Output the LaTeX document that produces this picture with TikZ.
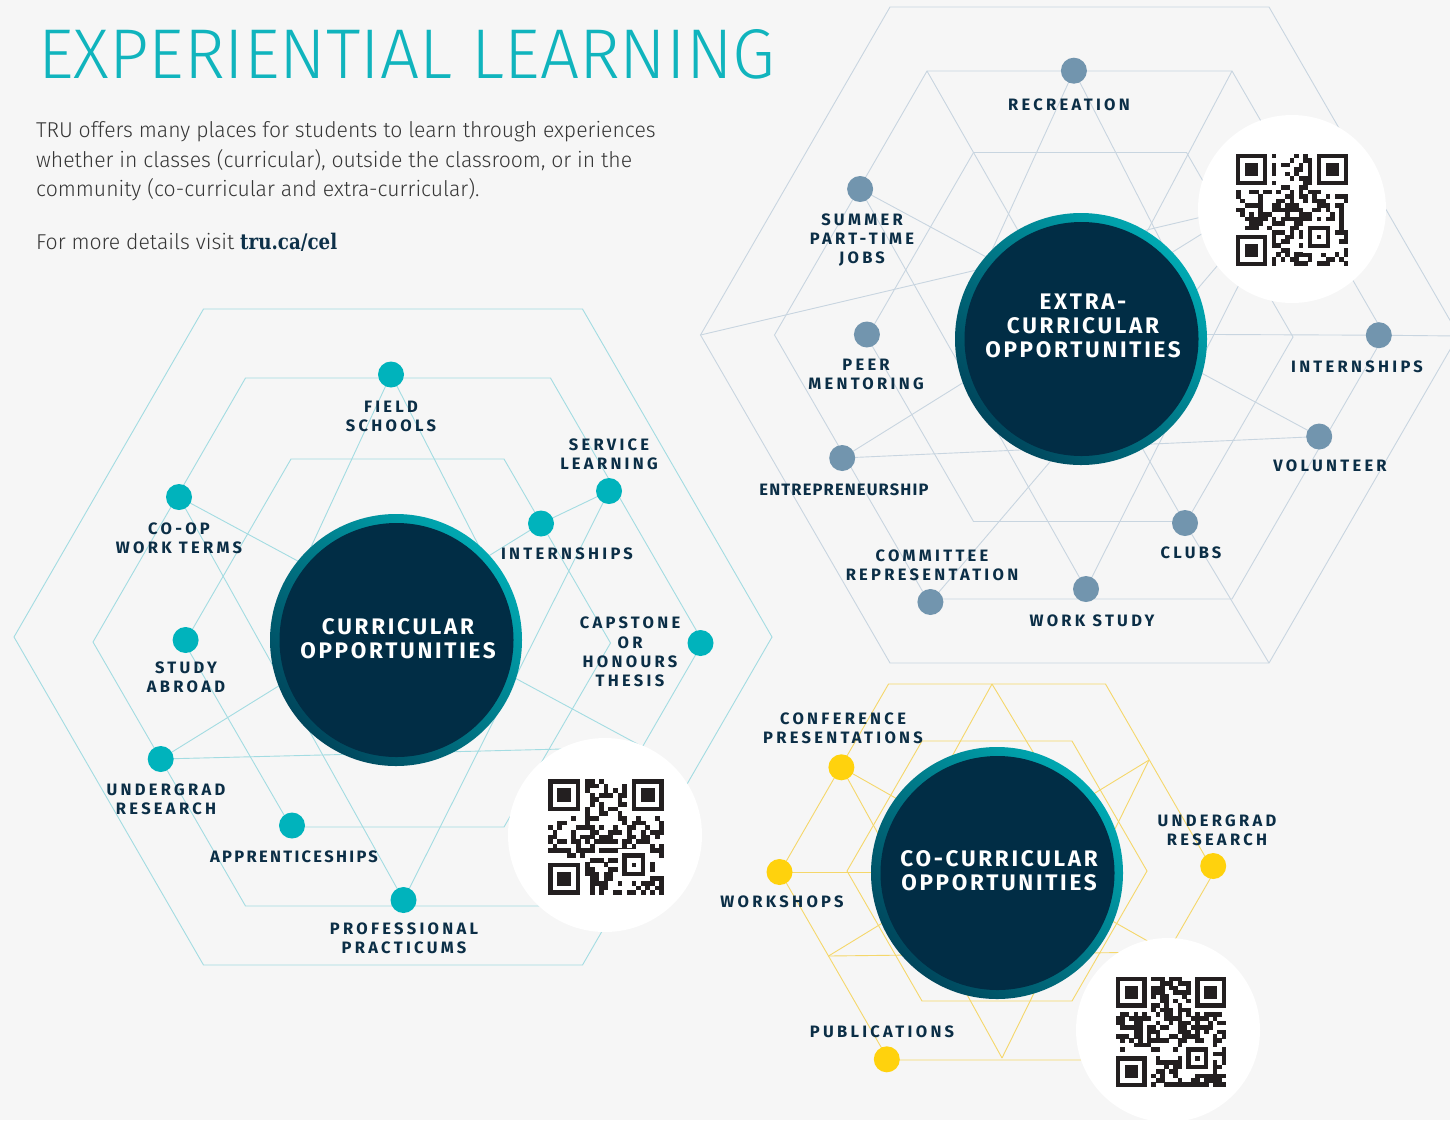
\documentclass[tikz,border=0pt]{standalone}
\usepackage{fontspec}
\setmainfont{Fira Sans}
\newfontfamily\titlefont{Fira Sans Light}
\newfontfamily\bodyfont[FakeStretch=0.985]{Fira Sans Light}
\newfontfamily\lblfont[LetterSpace=20]{Fira Sans}
\newfontfamily\ctrfont[LetterSpace=12]{Fira Sans}
\newfontfamily\slabfont[FakeStretch=0.85]{DejaVu Serif}
\definecolor{bgc}{HTML}{F6F6F6}
\definecolor{tealdot}{HTML}{00B3BC}
\definecolor{tealline}{HTML}{A3DCE2}
\definecolor{greydot}{HTML}{7295AE}
\definecolor{greyline}{HTML}{C8D5E0}
\definecolor{yeldot}{HTML}{FFD20D}
\definecolor{yelline}{HTML}{F5D76A}
\definecolor{navy}{HTML}{012D45}
\definecolor{lblc}{HTML}{0B2E46}
\definecolor{ringlight}{HTML}{00A9B2}
\definecolor{ringdark}{HTML}{00465C}
\definecolor{titlec}{HTML}{10B4BD}
\definecolor{bodyc}{HTML}{363636}
\definecolor{linkc}{HTML}{0E3149}
\definecolor{qrc}{HTML}{231F20}
\tikzset{
 tl/.style={draw=tealline, line width=0.9pt},
 gl/.style={draw=greyline, line width=0.9pt},
 yl/.style={draw=yelline, line width=0.9pt},
 dotbase/.style={circle, minimum size=26pt, inner sep=0pt},
 tdot/.style={dotbase, fill=tealdot},
 gdot/.style={dotbase, fill=greydot},
 ydot/.style={dotbase, fill=yeldot},
 lbl/.style={text=lblc, font=\lblfont\bfseries\fontsize{16.5}{19.2}\selectfont, align=center, inner sep=0pt},
 ctr/.style={text=white, font=\ctrfont\bfseries\fontsize{22.5}{24}\selectfont, align=center, inner sep=0pt},
 ring/.style={circle, minimum size=252pt, inner sep=0pt, top color=ringlight, bottom color=ringdark, shading angle=-45},
 core/.style={circle, minimum size=234pt, inner sep=0pt, fill=navy},
 qrdisc/.style={circle, fill=white, inner sep=0pt},
 bodytxt/.style={text=bodyc, font=\bodyfont\fontsize{21.5}{29.5}\selectfont, inner sep=0pt, anchor=base west},
}
\newcommand\qrfinder[2]{%
 \fill[white] (#1-1-12.5,#2-1-12.5) rectangle ++(9,9);
 \fill[qrc] (#1-12.5,#2-12.5) rectangle ++(7,7);
 \fill[white] (#1+1-12.5,#2+1-12.5) rectangle ++(5,5);
 \fill[qrc] (#1+2-12.5,#2+2-12.5) rectangle ++(3,3);}
\newcommand\qrcode[4]{%
 \begin{scope}[shift={(#1,#2)},x=#3pt,y=#3pt]
 \pgfmathsetseed{#4}
 \foreach \qi in {0,...,24}{\foreach \qj in {0,...,24}{%
   \pgfmathrandominteger{\qrr}{0}{9}%
   \ifnum\qrr<5 \fill[qrc] (\qi-12.5,\qj-12.5) rectangle ++(1.03,1.03);\fi}}
 \qrfinder{0}{18}\qrfinder{18}{18}\qrfinder{0}{0}
 \fill[white] (15-12.5,3-12.5) rectangle ++(7,7);
 \fill[qrc] (16-12.5,4-12.5) rectangle ++(5,5);
 \fill[white] (17-12.5,5-12.5) rectangle ++(3,3);
 \fill[qrc] (18-12.5,6-12.5) rectangle ++(1,1);
 \end{scope}}
\begin{document}
\begin{tikzpicture}[x=1pt,y=-1pt]
\useasboundingbox (0,0) rectangle (1450,1120);
\clip (0,0) rectangle (1450,1120);
\fill[bgc] (0,0) rectangle (1450,1120);

% ================= LEFT NETWORK (curricular) =================
\draw[tl] (203.5,309) -- (582.5,309) -- (772,637) -- (582.5,965) -- (203.5,965) -- (14,637) -- cycle;
\draw[tl] (245.5,378) -- (550.5,378) -- (703,642) -- (550.5,906) -- (245.5,906) -- (93,642) -- cycle;
\draw[tl] (291,459) -- (504,459) -- (610.5,643) -- (504,827) -- (291,827) -- (184.5,643) -- cycle;
\coordinate (fs) at (391,374.5);
\coordinate (sl) at (609,491);
\coordinate (int) at (541,523.5);
\coordinate (cap) at (700.5,643);
\coordinate (coop) at (179,497);
\coordinate (sa) at (185.6,640);
\coordinate (ur) at (160.7,759);
\coordinate (app) at (292,825.5);
\coordinate (pp) at (403.5,900);
\coordinate (fsa) at (305,560);
\coordinate (fsb) at (486,560);
\coordinate (q1) at (643,747);
\draw[tl] (fs) -- (fsa);
\draw[tl] (fs) -- (fsb);
\draw[tl] (coop) -- (pp);
\draw[tl] (sl) -- (pp);
\draw[tl] (sl) -- (int);
\draw[tl] (int) -- (ur);
\draw[tl] (coop) -- (q1);
\draw[tl] (ur) -- (q1);

% ================= TOP RIGHT NETWORK (extra-curricular) =================
\draw[gl] (890,7) -- (1269,7) -- (1458.5,335) -- (1269,663) -- (890,663) -- (700.5,335) -- cycle;
\draw[gl] (927,71) -- (1232,71) -- (1384.5,335) -- (1232,599) -- (927,599) -- (774.5,335) -- cycle;
\draw[gl] (973.5,152.5) -- (1186.5,152.5) -- (1293,337) -- (1186.5,521.5) -- (973.5,521.5) -- (867,337) -- cycle;
\coordinate (rec) at (1073.9,70.7);
\coordinate (sum) at (860.1,189);
\coordinate (peer) at (866.9,334.5);
\coordinate (ent) at (842.2,458);
\coordinate (com) at (930.4,602);
\coordinate (ws) at (1086,589);
\coordinate (clubs) at (1185,523);
\coordinate (vol) at (1319.2,436.5);
\coordinate (intb) at (1378.8,335.2);
\coordinate (reca) at (982,272);
\coordinate (recb) at (1168,255);
\coordinate (q2) at (1293,177);
\coordinate (tv1) at (927,71);
\coordinate (tv2) at (1269,663);
\coordinate (tv3) at (1232,71);
\coordinate (tv3e) at (1140,245);
\coordinate (tv4) at (700.5,335);
\coordinate (tv4e) at (1240,208);
\coordinate (tc) at (1100,334);
\coordinate (tv5) at (1458.5,336);
\draw[gl] (rec) -- (reca);
\draw[gl] (rec) -- (recb);
\draw[gl] (sum) -- (ws);
\draw[gl] (ws) -- (q2);
\draw[gl] (ent) -- (q2);
\draw[gl] (com) -- (q2);
\draw[gl] (sum) -- (vol);
\draw[gl] (ent) -- (vol);
\draw[gl] (tv1) -- (clubs) -- (tv2);
\draw[gl] (tv3) -- (tv3e);
\draw[gl] (tv4) -- (tv4e);
\draw[gl] (tc) -- (intb) -- (tv5);

% ================= BOTTOM NETWORK (co-curricular) =================
\draw[yl] (888.5,684) -- (1105.5,684) -- (1214,872) -- (1105.5,1060) -- (888.5,1060) -- (780,872) -- cycle;
\draw[yl] (922,741) -- (1072,741) -- (1147,871) -- (1072,1001) -- (922,1001) -- (847,871) -- cycle;
\coordinate (conf) at (841.4,767.3);
\coordinate (wsh) at (779.5,872);
\coordinate (pub) at (886.8,1059.3);
\coordinate (urb) at (1213.2,866);
\coordinate (bt) at (992,684);
\coordinate (bta) at (950,760);
\coordinate (btb) at (1036,757);
\coordinate (bb) at (1002,1058);
\coordinate (bp1) at (828.5,956);
\coordinate (bp2) at (1149,760);
\coordinate (q3) at (1167,952);
\coordinate (bwe) at (905,872);
\draw[yl] (bt) -- (bta);
\draw[yl] (bt) -- (btb);
\draw[yl] (conf) -- (bb);
\draw[yl] (bp2) -- (bb);
\draw[yl] (bp1) -- (bp2);
\draw[yl] (conf) -- (q3);
\draw[yl] (bp1) -- (q3);
\draw[yl] (wsh) -- (bwe);

% ================= QR discs =================
\node[qrdisc, minimum size=194pt] (qra) at (605,835) {};
\node[qrdisc, minimum size=188pt] (qrb) at (1292,209) {};
\node[qrdisc, minimum size=184pt] (qrc) at (1168,1030) {};

% ================= Big circles =================
\node[ring] (cura) at (396,640) {};
\node[core] (curb) at (396.5,640) {};
\node[ring] (exta) at (1081,339) {};
\node[core] (extb) at (1081.5,339) {};
\node[ring] (coca) at (997,873) {};
\node[core] (cocb) at (997.5,873) {};

% ================= Dots =================
\foreach \p in {fs,sl,int,cap,coop,sa,ur,app,pp}{\node[tdot] (\p-dot) at (\p) {};}
\foreach \p in {rec,sum,peer,ent,com,ws,clubs,vol,intb}{\node[gdot] (\p-dot) at (\p) {};}
\foreach \p in {conf,wsh,pub,urb}{\node[ydot] (\p-dot) at (\p) {};}

\node[ctr] (ccur) at (398,639) {CURRICULAR\\OPPORTUNITIES};
\node[ctr] (cext) at (1083,326) {EXTRA-\\CURRICULAR\\OPPORTUNITIES};
\node[ctr] (ccoc) at (999,871) {CO-CURRICULAR\\OPPORTUNITIES};

% ================= Labels =================
\node[lbl] (lfs) at (391,416.5) {FIELD\\SCHOOLS};
\node[lbl] (lsl) at (609,454.5) {SERVICE\\LEARNING};
\node[lbl] (lcoop) at (179,538.5) {CO-OP\\WORK TERMS};
\node[lbl] (lint) at (567,554) {INTERNSHIPS};
\node[lbl] (lsa) at (186,677.5) {STUDY\\ABROAD};
\node[lbl] (lcap) at (630,652) {CAPSTONE\\OR\\HONOURS\\THESIS};
\node[lbl] (lur) at (166,799.5) {UNDERGRAD\\RESEARCH};
\node[lbl] (lapp) at (294,857) {\addfontfeature{LetterSpace=14}APPRENTICESHIPS};
\node[lbl] (lpp) at (404,938.5) {PROFESSIONAL\\PRACTICUMS};

\node[lbl] (lrec) at (1069,105) {RECREATION};
\node[lbl] (lsum) at (862,240) {SUMMER\\PART-TIME\\JOBS};
\node[lbl] (lpeer) at (866,374.5) {PEER\\MENTORING};
\node[lbl] (lent) at (844,490) {\addfontfeature{LetterSpace=7}ENTREPRENEURSHIP};
\node[lbl] (lcom) at (932,565.5) {COMMITTEE\\REPRESENTATION};
\node[lbl] (lws) at (1092,621) {WORK STUDY};
\node[lbl] (lclubs) at (1191,552.5) {CLUBS};
\node[lbl] (lvol) at (1330,466) {VOLUNTEER};
\node[lbl] (lintb) at (1357,367) {INTERNSHIPS};

\node[lbl] (lconf) at (843,728.5) {CONFERENCE\\PRESENTATIONS};
\node[lbl] (lwsh) at (782,902) {WORKSHOPS};
\node[lbl] (lpub) at (882,1032) {PUBLICATIONS};
\node[lbl] (lurb) at (1217,830.5) {UNDERGRAD\\RESEARCH};

% ================= QR codes =================
\qrcode{606}{837}{4.64}{11}
\qrcode{1292}{210}{4.48}{27}
\qrcode{1171}{1032}{4.40}{53}

% ================= Header text =================
\node[anchor=south west, inner sep=0pt, text=titlec] (title) at (38,79.5)
  {\resizebox{737pt}{49pt}{\titlefont EXPERIENTIAL LEARNING}};
\node[bodytxt] (body1) at (36,137.7) {TRU offers many places for students to learn through experiences};
\node[bodytxt] (body2) at (36,167.3) {whether in classes (curricular), outside the classroom, or in the};
\node[bodytxt] (body3) at (36,196.7) {community (co-curricular and extra-curricular).};
\node[bodytxt] (body4) at (36,249.3) {For more details visit {\slabfont\bfseries\color{linkc}tru.ca/cel}};
\end{tikzpicture}
\end{document}
